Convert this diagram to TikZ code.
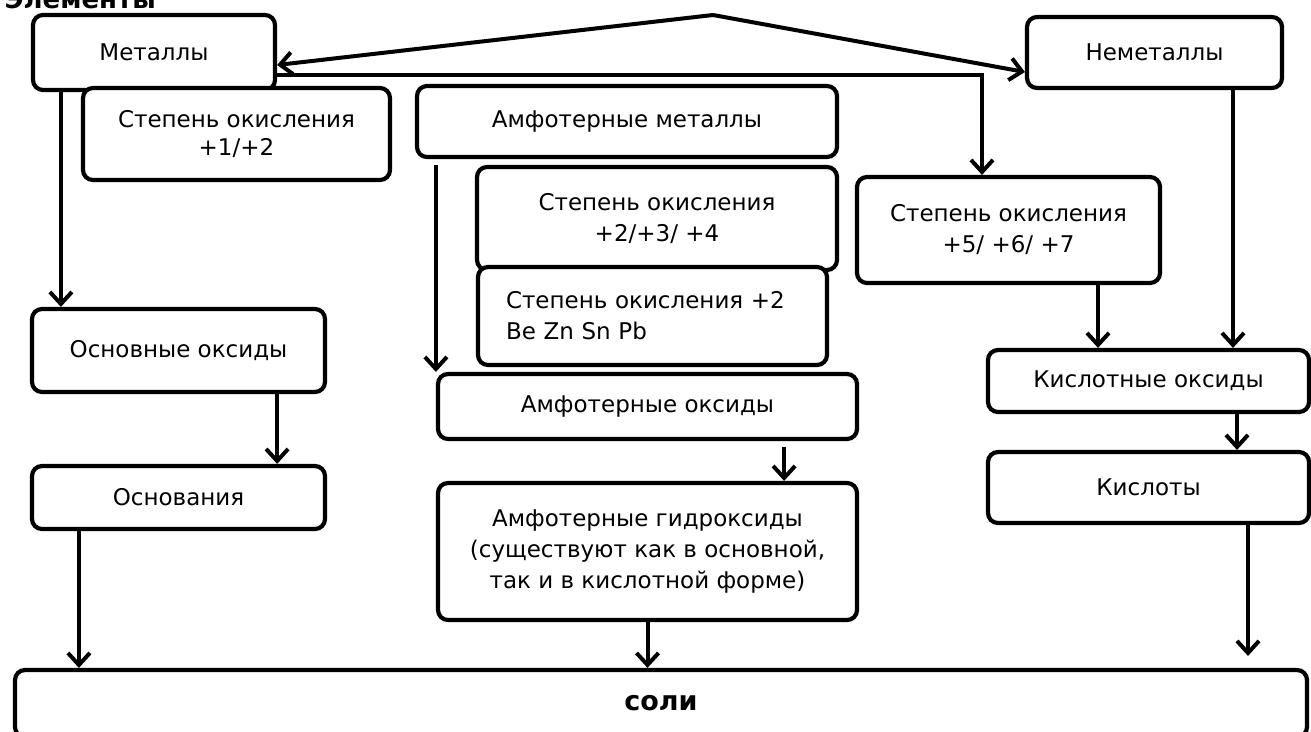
\documentclass[tikz,border=0pt]{standalone}
\usepackage{fontspec}
\setmainfont{DejaVu Sans}
\usetikzlibrary{arrows.meta}
\newcommand{\boxfont}{\fontsize{23}{31}\selectfont}
\begin{document}
\begin{tikzpicture}[x=1pt,y=-1pt,
  box/.style={draw, fill=white, line width=4.2pt, rounded corners=10pt, inner sep=0pt, align=center, font=\boxfont},
  arr/.style={line width=4pt, -{Straight Barb[length=12pt,width=22pt]}}]
\useasboundingbox (0,0) rectangle (1311,731);
% heading (cut by the page edge)
\node[anchor=base east, font=\bfseries\fontsize{26}{30}\selectfont, inner sep=0pt] (head) at (156,8) {Элементы};
% boxes
\node[box, minimum width=242pt, minimum height=75pt] (met) at (154,52.5) {Металлы};
\node[box, minimum width=307pt, minimum height=92pt, font=\fontsize{23}{28}\selectfont] (st12) at (236.5,134) {Степень окисления\\+1/+2};
\node[box, minimum width=420pt, minimum height=71pt] (amet) at (627,121.5) {Амфотерные металлы};
\node[box, minimum width=360pt, minimum height=103pt] (st234) at (657,218.5) {Степень окисления\\+2/+3/ +4};
\node[box, minimum width=349pt, minimum height=98pt, align=left, text width=293pt, inner xsep=28pt] (st2be) at (652.5,316) {Степень окисления +2\\Be Zn Sn Pb};
\node[box, minimum width=419pt, minimum height=65pt] (amox) at (647.5,406.5) {Амфотерные оксиды};
\node[box, minimum width=419pt, minimum height=137pt] (amhyd) at (647.5,551.5) {Амфотерные гидроксиды\\(существуют как в основной,\\так и в кислотной форме)};
\node[box, minimum width=255pt, minimum height=71pt] (nemet) at (1154.5,52.5) {Неметаллы};
\node[box, minimum width=303pt, minimum height=106pt] (st5) at (1008.5,230) {Степень окисления\\+5/ +6/ +7};
\node[box, minimum width=321pt, minimum height=62pt] (kisox) at (1148.5,381) {Кислотные оксиды};
\node[box, minimum width=321pt, minimum height=71pt] (kis) at (1148.5,487.5) {Кислоты};
\node[box, minimum width=293pt, minimum height=83pt] (osnox) at (178.5,350.5) {Основные оксиды};
\node[box, minimum width=293pt, minimum height=63pt] (osn) at (178.5,497.5) {Основания};
\node[box, minimum width=1292pt, minimum height=67pt, font=\bfseries\fontsize{27}{31}\selectfont] (soli) at (661,703.5) {соли};
% roof
\coordinate (peak) at (713,15);
\draw[arr] (peak) -- ([yshift=-12.5pt]met.east);
\draw[arr] (peak) -- ([yshift=-19.5pt]nemet.west);
% connectors
\draw[arr] ([yshift=-22.5pt]met.east) -| ([xshift=-26.5pt]st5.north);
\draw[arr] ([xshift=30pt]met.south west) -- ([xshift=31pt]osnox.north west);
\draw[arr] ([xshift=-50pt]osnox.south east) -- ([xshift=-50pt]osn.north east);
\draw[arr] ([xshift=49pt]osn.south west) -- ([xshift=66pt]soli.north west);
\draw[arr] ([xshift=21pt,yshift=-6pt]amet.south west) -- ([xshift=0pt]amox.north west);
\draw[arr] ([xshift=-75pt,yshift=-6pt]amox.south east) -- ([xshift=-75pt]amhyd.north east);
\draw[arr] (amhyd.south) -- (soli.north -| amhyd.south);
\draw[arr] ([xshift=78.5pt]nemet.south) -- ([xshift=84.5pt]kisox.north);
\draw[arr] ([xshift=89.5pt]st5.south) -- ([xshift=-50.5pt]kisox.north);
\draw[arr] ([xshift=88.5pt]kisox.south) -- ([xshift=88.5pt]kis.north);
\draw[arr] ([xshift=99.5pt]kis.south) -- ([xshift=587pt,yshift=12pt]soli.north);
\end{tikzpicture}
\end{document}
